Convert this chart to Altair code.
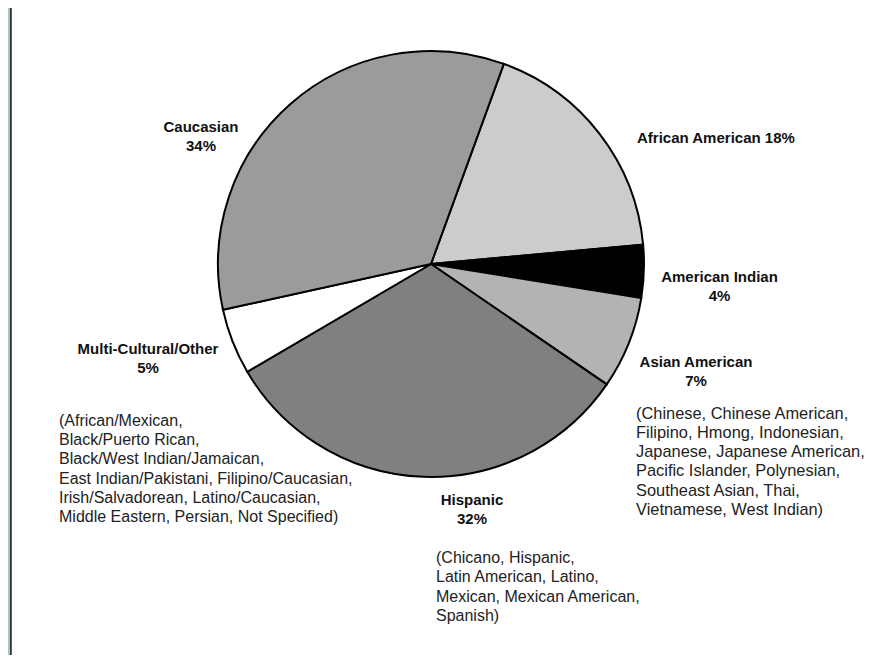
import math
import altair as alt
import pandas as pd

# ---- data ----
categories = ["African American", "American Indian", "Asian American",
              "Hispanic", "Multi-Cultural/Other", "Caucasian"]
percents = [18, 4, 7, 32, 5, 34]
slice_colors = ["#cccccc", "#000000", "#b3b3b3", "#808080", "#ffffff", "#9b9b9b"]

asian_lines = ["(Chinese, Chinese American,", "Filipino, Hmong, Indonesian,",
               "Japanese, Japanese American,", "Pacific Islander, Polynesian,",
               "Southeast Asian, Thai,", "Vietnamese, West Indian)"]
multi_lines = ["(African/Mexican,", "Black/Puerto Rican,", "Black/West Indian/Jamaican,",
               "East Indian/Pakistani, Filipino/Caucasian,",
               "Irish/Salvadorean, Latino/Caucasian,",
               "Middle Eastern, Persian, Not Specified)"]
hispanic_lines = ["(Chicano, Hispanic,", "Latin American, Latino,",
                  "Mexican, Mexican American,", "Spanish)"]

# ---- tables ----
df = pd.DataFrame({"category": categories, "percent": percents,
                   "order": list(range(len(categories)))})
df["label"] = [f"{c} {p}%" if c == "African American" else f"{c}\n{p}%"
               for c, p in zip(categories, percents)]

desc_df = pd.DataFrame({
    "group": ["Asian American", "Multi-Cultural/Other", "Hispanic"],
    "text": ["\n".join(asian_lines), "\n".join(multi_lines), "\n".join(hispanic_lines)],
})

W, H = 863, 647
CX, CY, R = 423, 256, 213
start = math.radians(20.0)

pie = alt.Chart(df).mark_arc(stroke="#000000", strokeWidth=2, outerRadius=R).encode(
    theta=alt.Theta("percent:Q", stack=True,
                    scale=alt.Scale(range=[start, start + 2 * math.pi])),
    order=alt.Order("order:Q"),
    color=alt.Color("category:N", scale=alt.Scale(domain=categories, range=slice_colors),
                    legend=None),
    x=alt.value(CX), y=alt.value(CY),
)

# label placement (chart coordinates)
label_layout = {
    "Caucasian": (193, 124, "center", 15),
    "African American": (629, 135, "left", 15),
    "American Indian": (711.5, 274, "center", 15),
    "Asian American": (688, 359, "center", 15),
    "Hispanic": (464, 497, "center", 15),
    "Multi-Cultural/Other": (140, 346, "center", 15),
}
desc_layout = {
    "Asian American": (628, 410.5, 16.4),
    "Multi-Cultural/Other": (51, 417.7, 16),
    "Hispanic": (428, 555, 16),
}

layers = []
frame_df = pd.DataFrame({"k": [0]})
layers.append(alt.Chart(frame_df).mark_rect(color="#a3c7b9").encode(
    x=alt.value(0), x2=alt.value(2), y=alt.value(0), y2=alt.value(H)))
layers.append(alt.Chart(frame_df).mark_rect(color="#333333").encode(
    x=alt.value(2), x2=alt.value(3.8), y=alt.value(0), y2=alt.value(H)))
layers.append(pie)

for cat, (lx, ly, al, fs) in label_layout.items():
    layers.append(
        alt.Chart(df).transform_filter(alt.datum.category == cat).mark_text(
            font="Liberation Sans", fontWeight="bold", fontSize=fs, align=al,
            baseline="alphabetic", lineBreak="\n", lineHeight=19, color="#111111",
        ).encode(x=alt.value(lx), y=alt.value(ly), text="label:N")
    )

for grp, (dx, dy, fs) in desc_layout.items():
    layers.append(
        alt.Chart(desc_df).transform_filter(alt.datum.group == grp).mark_text(
            font="Liberation Sans", fontSize=fs, align="left",
            baseline="alphabetic", lineBreak="\n", lineHeight=19.3, color="#222222",
        ).encode(x=alt.value(dx), y=alt.value(dy), text="text:N")
    )

chart = alt.layer(*layers).properties(
    width=W, height=H, padding=0,
    autosize=alt.AutoSizeParams(type="none"),
    background="#ffffff",
).configure_view(strokeWidth=0)

chart.save("out.html", embed_options={"renderer": "svg", "actions": False})
